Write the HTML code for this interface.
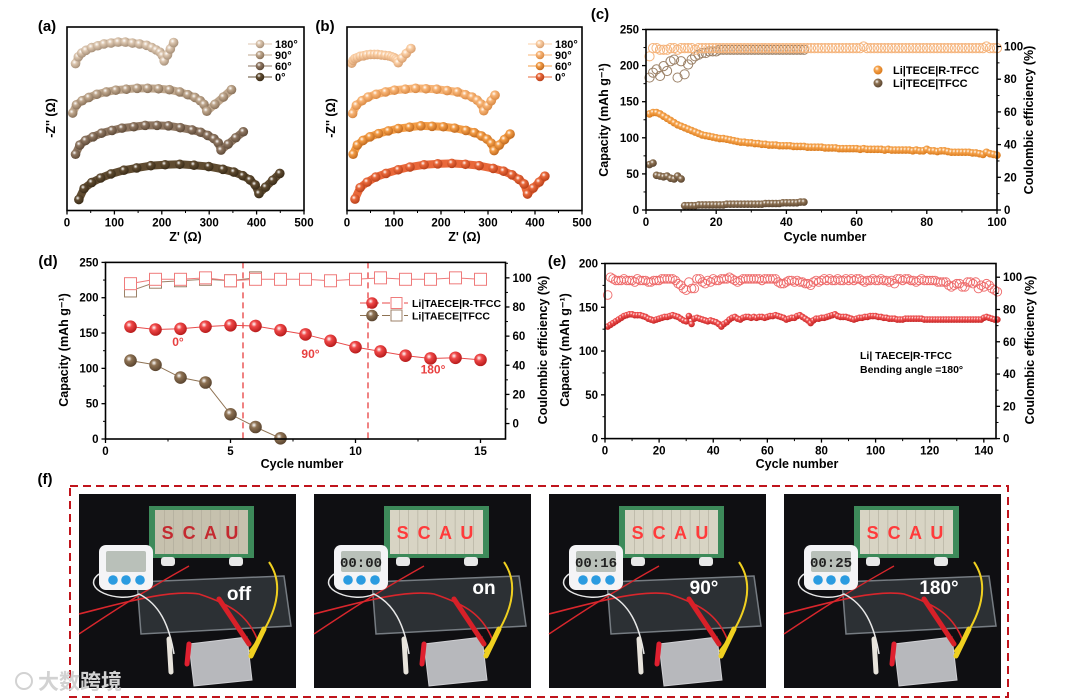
<!DOCTYPE html>
<html><head><meta charset="utf-8">
<style>
html,body{margin:0;padding:0;background:#fff;}
svg{display:block;font-family:"Liberation Sans","Noto Sans CJK SC",sans-serif;}
text{font-weight:bold;}
</style></head>
<body>
<svg id="fig" width="1076" height="699" viewBox="0 0 1076 699">
<defs id="defs"></defs>
</svg>
<script>
// ---------- DATA ----------
// (a) Nyquist, brown series (Z' and -Z'' offset values, ohm)
const a180X=[18,24,31,40,52,65,78,93,108,123,138,153,168,179,188,196,201,205,212,218,225];
const a180Y=[321,336,344,350,356,360,364,366,368,368,366,364,361,356,351,346,339,327,340,353,367];
const a90X=[12,20,32,46,63,83,103,125,148,170,193,216,238,255,270,281,289,295,312,330,347];
const a90Y=[213,231,240,247,254,259,263,265,267,267,266,264,259,253,247,240,232,217,232,248,264];
const a60X=[18,27,39,55,73,95,116,141,165,190,214,239,264,282,297,310,319,325,340,356,372];
const a60Y=[123,143,153,161,169,175,180,183,186,186,185,181,176,171,164,157,148,132,145,159,172];
const a0X=[25,36,52,71,93,120,147,177,207,238,268,299,329,352,371,386,397,405,419,434,449];
const a0Y=[24,48,61,71,80,88,93,98,100,101,99,96,90,84,76,67,56,37,51,66,81];
// (b) Nyquist, orange series
const b180X=[10,13,17,22,28,35,42,50,58,65,73,81,89,95,100,104,107,109,117,126,136];
const b180Y=[322,328,332,334,337,338,340,341,341,341,340,339,338,336,334,331,328,323,333,343,354];
const b90X=[12,20,32,45,62,82,101,124,146,168,191,213,235,252,266,277,285,291,299,307,315];
const b90Y=[212,230,240,248,254,259,263,265,267,266,265,262,259,253,248,241,233,218,229,240,252];
const b60X=[13,22,34,49,67,88,109,133,157,181,205,229,253,271,286,298,307,313,324,335,347];
const b60Y=[123,143,153,161,168,174,179,182,185,184,183,180,175,170,163,156,147,131,143,155,167];
const b0X=[17,28,43,61,83,109,134,164,193,223,252,281,311,333,351,366,377,384,396,409,421];
const b0Y=[25,50,62,73,81,89,95,100,102,103,101,98,92,86,78,68,58,36,49,62,75];
const nyqLabels=["180°","90°","60°","0°"];
const nyqTicks=[0,100,200,300,400,500];
// (c) cycling
const cOrangeCap=[133,135,135,133,130,127,124,121,118,116,114,112,110,108,106,104,103,102,101,100,
99,99,98,97,96,95,94,94,93,93,92,92,91,91,90,90,90,89,89,89,89,88,88,88,88,87,87,87,87,87,
86,86,86,86,85,85,85,85,85,85,84,85,84,84,84,84,84,83,84,83,83,83,83,83,83,82,83,82,82,84,
82,82,81,82,82,81,80,80,80,80,80,80,79,79,78,77,80,78,77,76];
const cOrangeCE=[94,99,99,98,98,98,99,99,98,99,99,99,99,98,99,99,99,99,99,99,
99,99,99,99,99,99,99,99,99,99,99,99,99,99,99,99,99,99,99,99,99,99,99,99,99,99,99,99,99,99,
99,99,99,99,99,99,99,99,99,99,99,100,99,99,99,99,99,99,99,99,99,99,99,99,99,99,99,99,99,99,
99,99,99,99,99,99,99,99,99,99,99,99,99,99,99,99,100,99,99,99];
const cBrownCap=[63,65,48,47,46,47,44,43,47,43,6,6,6,6,7,7,7,7,7,7,7,7,8,8,8,8,8,8,8,8,8,8,8,9,9,9,9,9,10,10,10,10,10,11,11];
const cBrownCE=[81,84,86,82,88,85,91,92,81,91,83,89,92,94,95,96,96,97,97,97,98,98,98,98,98,98,98,98,98,98,98,98,98,98,98,98,98,98,98,98,98,98,98,98,98];
const cXTicks=[0,20,40,60,80,100];
const cYTicks=[0,50,100,150,200,250];
const cY2Ticks=[0,20,40,60,80,100];
// (d) bending test
const dCycles=[1,2,3,4,5,6,7,8,9,10,11,12,13,14,15];
const dRedCap=[159,155,156,159,161,160,154,148,139,130,124,118,114,115,112];
const dRedCE=[96,99,99,100,98,99,99,99,98,99,100,99,99,100,99];
const dBrownCycles=[1,2,3,4,5,6,7];
const dBrownCap=[111,105,87,80,35,17,1];
const dBrownCE=[91,97,98,99,98,100];
const dXTicks=[0,5,10,15];
const dYTicks=[0,50,100,150,200,250];
const dY2Ticks=[0,20,40,60,80,100];
const dDividers=[5.5,10.5];
const dAngleLabels=["0°","90°","180°"];
const dAngleX=[2.9,8.2,13.1];
const dAngleCap=[132,115,93];
// (e) long cycling at 180°
const eCap=[128,130,132,134,136,138,140,141,142,142,141,141,141,140,139,137,136,135,136,137,
138,139,139,140,141,140,139,137,135,134,140,131,137,138,137,136,135,134,135,134,
133,131,128,131,133,136,138,139,137,136,138,139,139,138,139,138,139,139,138,139,
140,140,141,140,139,138,136,137,138,138,140,141,139,137,135,132,135,137,137,138,
138,139,140,141,142,140,139,139,139,138,137,136,137,138,138,139,139,140,140,140,
139,139,138,138,137,137,137,136,136,136,137,137,137,137,137,137,137,136,136,136,
136,136,136,136,136,136,136,136,136,136,136,136,136,136,136,136,136,136,136,138,
139,138,137,136,136];
const eCE=[89,100,99,98,98,98,99,98,98,98,97,99,98,98,98,97,97,98,98,98,
99,99,99,99,99,98,96,95,93,92,97,93,93,99,99,97,96,98,97,99,
98,98,99,99,99,100,99,98,97,98,99,99,99,99,99,99,99,98,99,99,
99,99,99,97,96,96,97,98,98,97,98,97,97,96,96,95,97,98,97,98,
99,98,99,98,98,99,98,98,99,98,99,98,99,99,98,97,98,98,99,98,
98,99,98,98,97,98,96,99,99,98,99,99,98,98,97,98,99,98,98,98,
98,98,97,97,97,97,95,94,95,96,96,94,94,97,97,96,97,93,95,94,
96,95,93,92,91];
const eXTicks=[0,20,40,60,80,100,120,140];
const eYTicks=[0,50,100,150,200];
const eY2Ticks=[0,20,40,60,80,100];
// (f) photos
const photoLabels=["off","on","90°","180°"];
const photoTimers=["","00:00","00:16","00:25"];

// ---------- HELPERS ----------
const NS='http://www.w3.org/2000/svg';
const svg=document.getElementById('fig');
const defs=document.getElementById('defs');
function mk(tag,attrs,parent){const e=document.createElementNS(NS,tag);for(const k in attrs)e.setAttribute(k,attrs[k]);(parent||svg).appendChild(e);return e;}
function txt(s,x,y,attrs,parent){const e=mk('text',Object.assign({x:x,y:y},attrs||{}),parent);e.textContent=s;return e;}
function sx(p,v){return p.x0+(v-p.xmin)/(p.xmax-p.xmin)*(p.x1-p.x0);}
function sy(p,v){return p.y1-(v-p.ymin)/(p.ymax-p.ymin)*(p.y1-p.y0);}
function sy2(p,v){return p.y1-(v-p.y2min)/(p.y2max-p.y2min)*(p.y1-p.y0);}
let gid=0;
function grad(color,dark){const id='g'+(gid++);const g=mk('radialGradient',{id:id,cx:'38%',cy:'35%',r:'65%'},defs);
 mk('stop',{offset:'0',"stop-color":'#ffffff'},g);mk('stop',{offset:'0.35',"stop-color":color},g);mk('stop',{offset:'1',"stop-color":dark},g);return 'url(#'+id+')';}

const A={x0:67,x1:304,y0:27,y1:210.5,xmin:0,xmax:500,ymin:0,ymax:401};
const B={x0:347,x1:582,y0:27,y1:210.5,xmin:0,xmax:500,ymin:0,ymax:401};
const C={x0:646,x1:997,y0:29.5,y1:210,xmin:0,xmax:100,ymin:0,ymax:250,y2min:0,y2max:110.4};
const D={x0:105.5,x1:505.5,y0:262.4,y1:439,xmin:0,xmax:16,ymin:0,ymax:250,y2min:-10.6,y2max:110.6};
const E={x0:605,x1:996,y0:263.5,y1:438.6,xmin:0,xmax:144.5,ymin:0,ymax:200,y2min:0,y2max:108.5};

function frame(p,g){const r=mk('rect',{x:p.x0,y:p.y0,width:p.x1-p.x0,height:p.y1-p.y0,fill:'none',stroke:'#000','stroke-width':1.6},g);
 
 }
function xAxis(p,g,ticks,minorStep){
 for(let i=0;i<ticks.length;i++){const x=sx(p,ticks[i]);
  const t=mk('line',{x1:x,x2:x,y1:p.y1,y2:p.y1+4,stroke:'#000','stroke-width':1.3},g);
  
  
  const l=txt(String(ticks[i]),x,p.y1+16,{'font-size':11.5,'text-anchor':'middle'},g);
  
  
  if(minorStep&&i<ticks.length-1){const m=sx(p,ticks[i]+minorStep);
   const mt=mk('line',{x1:m,x2:m,y1:p.y1,y2:p.y1+2.5,stroke:'#000','stroke-width':1},g);
   
   }
 }}
function yAxis(p,g,ticks,right,minorStep){
 const f=right?sy2:sy;const x=right?p.x1:p.x0;const d=right?1:-1;
 for(let i=0;i<ticks.length;i++){const y=f(p,ticks[i]);
  const t=mk('line',{x1:x,x2:x+4*d,y1:y,y2:y,stroke:'#000','stroke-width':1.3},g);
  
  
  const l=txt(String(ticks[i]),x+7*d,y+4,{'font-size':11.5,'text-anchor':right?'start':'end'},g);
  
  
  if(minorStep){const m=f(p,ticks[i]+minorStep);
   if(m>p.y0){const mt=mk('line',{x1:x,x2:x+2.5*d,y1:m,y2:m,stroke:'#000','stroke-width':1},g);
   
   }}
 }}
function vtitle(s,x,y,g,name){const t=txt(s,x,y,{'font-size':12.5,'text-anchor':'middle',transform:'rotate(-90 '+x+' '+y+')'},g);
 
 return t;}
function htitle(s,x,y,g,name){const t=txt(s,x,y,{'font-size':12.5,'text-anchor':'middle'},g);
 
 return t;}
function panelLabel(s,x,y){const t=txt(s,x,y,{'font-size':15,'text-anchor':'middle'});
 
 }

// ---------- NYQUIST PANELS (a),(b) ----------
function nyquist(p,name,xs,ys,colors,darks,legX){
 const g=mk('g',{});
 
 
 for(let s=0;s<xs.length;s++){
  const fill=grad(colors[s],darks[s]);
  let pts=xs[s].map((v,i)=>sx(p,v)+','+sy(p,ys[s][i])).join(' ');
  const pl=mk('polyline',{points:pts,fill:'none',stroke:colors[s],'stroke-width':8,'stroke-linejoin':'round','stroke-linecap':'round'},g);
  
  
  for(let i=0;i<xs[s].length;i++){
   const c=mk('circle',{cx:sx(p,xs[s][i]),cy:sy(p,ys[s][i]),r:4.8,fill:fill},g);
   
   
  }
  const ly=44+s*11;
  const ll=mk('line',{x1:legX-12,x2:legX+12,y1:ly,y2:ly,stroke:colors[s],'stroke-width':1},g);
  
  
  const lc=mk('circle',{cx:legX,cy:ly,r:4.3,fill:fill},g);
  
  
  const lt=txt(nyqLabels[s],legX+15,ly+4,{'font-size':11},g);
  
  
 }
 frame(p,g);xAxis(p,g,nyqTicks,50);
 htitle("Z' (Ω)",(p.x0+p.x1)/2,241,g,'x-axis-title');
 vtitle("-Z'' (Ω)",p.x0-12,118,g,'y-axis-title');
}
nyquist(A,'panel-a',[a180X,a90X,a60X,a0X],[a180Y,a90Y,a60Y,a0Y],['#dcc6af','#bfa78d','#8e7661','#5f4b30'],['#a8917a','#8a725a','#5e4a38','#3a2c18'],260);
nyquist(B,'panel-b',[b180X,b90X,b60X,b0X],[b180Y,b90Y,b60Y,b0Y],['#fbcfa5','#f8b475','#f39c45','#e9683a'],['#d9a070','#d98a45','#c06a20','#b8401a'],540);
panelLabel('(a)',47,31);panelLabel('(b)',325,31);

// ---------- PANEL (c) ----------
(function(){
 const p=C;const g=mk('g',{});
 
 
 const oF=grad('#f6a34c','#d97a1c'), bF=grad('#8e7253','#5a4530');
 for(let i=0;i<cBrownCE.length;i++){const c=mk('circle',{cx:sx(p,i+1),cy:sy2(p,cBrownCE[i]),r:4.6,fill:'none',stroke:'#9c8268','stroke-width':1},g);
  
  }
 for(let i=0;i<cOrangeCE.length;i++){const c=mk('circle',{cx:sx(p,i+1),cy:sy2(p,cOrangeCE[i]),r:4.6,fill:'none',stroke:'#f5b47c','stroke-width':1},g);
  
  }
 for(let i=0;i<cOrangeCap.length;i++){const c=mk('circle',{cx:sx(p,i+1),cy:sy(p,cOrangeCap[i]),r:3.8,fill:oF},g);
  
  }
 for(let i=0;i<cBrownCap.length;i++){const c=mk('circle',{cx:sx(p,i+1),cy:sy(p,cBrownCap[i]),r:3.8,fill:bF},g);
  
  }
 frame(p,g);xAxis(p,g,cXTicks,10);yAxis(p,g,cYTicks,false,25);yAxis(p,g,cY2Ticks,true,10);
 htitle('Cycle number',825,241,g,'x-axis-title');
 vtitle('Capacity (mAh g⁻¹)',608,120,g,'y-axis-title');
 vtitle('Coulombic efficiency (%)',1033,120,g,'y2-axis-title');
 const l1=mk('circle',{cx:878,cy:70,r:4.5,fill:oF},g);
 
 
 const t1=txt('Li|TECE|R-TFCC',893,74,{'font-size':11},g);
 
 
 const l2=mk('circle',{cx:878,cy:83,r:4.5,fill:bF},g);
 
 
 const t2=txt('Li|TECE|TFCC',893,87,{'font-size':11},g);
 
 
})();
panelLabel('(c)',600,19);

// ---------- PANEL (d) ----------
(function(){
 const p=D;const g=mk('g',{});
 
 
 const rF=grad('#f04848','#b81c1c'), bF=grad('#8e7253','#5a4530');
 for(let i=0;i<dDividers.length;i++){const x=sx(p,dDividers[i]);
  const l=mk('line',{x1:x,x2:x,y1:p.y0,y2:p.y1,stroke:'#e84040','stroke-width':1.3,'stroke-dasharray':'6,4'},g);
  
  }
 function series(xs,ys,f,color,kind,name){
  const pl=mk('polyline',{points:xs.slice(0,ys.length).map((v,i)=>sx(p,v)+','+f(p,ys[i])).join(' '),fill:'none',stroke:color,'stroke-width':1},g);
  
  
  for(let i=0;i<ys.length;i++){let m;
   if(kind==='sq'){m=mk('rect',{x:sx(p,xs[i])-6,y:f(p,ys[i])-6,width:12,height:12,fill:'#fff',stroke:color,'stroke-width':1},g);}
   else{m=mk('circle',{cx:sx(p,xs[i]),cy:f(p,ys[i]),r:6.3,fill:kind},g);}
   
   }
 }
 series(dBrownCycles,dBrownCE,sy2,'#9c8268','sq','tfcc-ce');
 series(dCycles,dRedCE,sy2,'#ef7b7b','sq','rtfcc-ce');
 series(dCycles,dRedCap,sy,'#e84a4a',rF,'rtfcc-capacity');
 series(dBrownCycles,dBrownCap,sy,'#8e7253',bF,'tfcc-capacity');
 for(let i=0;i<dAngleLabels.length;i++){const t=txt(dAngleLabels[i],sx(p,dAngleX[i]),sy(p,dAngleCap[i]),{'font-size':12,fill:'#e84040','font-weight':'normal','text-anchor':'middle'},g);
  
  }
 frame(p,g);xAxis(p,g,dXTicks,2.5);yAxis(p,g,dYTicks,false,25);yAxis(p,g,dY2Ticks,true,10);
 htitle('Cycle number',302,468,g,'x-axis-title');
 vtitle('Capacity (mAh g⁻¹)',68,350,g,'y-axis-title');
 vtitle('Coulombic efficiency (%)',547,350,g,'y2-axis-title');
 const names=['Li|TAECE|R-TFCC','Li|TAECE|TFCC'];const cols=['#e84a4a','#8e7253'];const fills=[rF,bF];const sq=['#ef7b7b','#9c8268'];
 for(let i=0;i<2;i++){const y=303+i*12.5;
  const ln=mk('line',{x1:360,x2:408,y1:y,y2:y,stroke:cols[i],'stroke-width':1,'stroke-dasharray':'8,3'},g);
  
  
  const c=mk('circle',{cx:372,cy:y,r:5.8,fill:fills[i]},g);
  
  
  const r=mk('rect',{x:391,y:y-5.5,width:11,height:11,fill:'#fff',stroke:sq[i]},g);
  
  
  const t=txt(names[i],412,y+4,{'font-size':10.5},g);
  
  }
})();
panelLabel('(d)',48,266);

// ---------- PANEL (e) ----------
(function(){
 const p=E;const g=mk('g',{});
 
 
 const rF=grad('#f05050','#c42424');
 for(let i=0;i<eCE.length;i++){const c=mk('circle',{cx:sx(p,i+1),cy:sy2(p,eCE[i]),r:4.3,fill:'none',stroke:'#ee6a6a','stroke-width':0.9},g);
  
  }
 for(let i=0;i<eCap.length;i++){const c=mk('circle',{cx:sx(p,i+1),cy:sy(p,eCap[i]),r:3.3,fill:rF},g);
  
  }
 frame(p,g);xAxis(p,g,eXTicks,10);yAxis(p,g,eYTicks,false,25);yAxis(p,g,eY2Ticks,true,10);
 htitle('Cycle number',797,468,g,'x-axis-title');
 vtitle('Capacity (mAh g⁻¹)',569,350,g,'y-axis-title');
 vtitle('Coulombic efficiency (%)',1034,350,g,'y2-axis-title');
 const t1=txt('Li| TAECE|R-TFCC',860,359,{'font-size':10.5},g);
 
 
 const t2=txt('Bending angle =180°',860,373,{'font-size':10.5},g);
 
 
})();
panelLabel('(e)',557,266);

// ---------- PANEL (f) ----------
panelLabel('(f)',45,484);
(function(){
 const box=mk('rect',{x:70,y:486,width:938,height:211,fill:'none',stroke:'#c0141c','stroke-width':2,'stroke-dasharray':'8,5'});
 
 
 for(let k=0;k<photoLabels.length;k++){
  const ox=79+k*235, oy=494, lit=k>0;
  const g=mk('g',{transform:'translate('+ox+','+oy+')'});
  
  
  const bg=mk('rect',{x:0,y:0,width:217,height:194,fill:'#0f0f12'},g);
  
  
  const slab=mk('polygon',{points:'58,88 205,82 212,132 62,140',fill:'#2c3034',stroke:'#767c82','stroke-width':1.5},g);
  
  
  const board=mk('rect',{x:70,y:12,width:105,height:52,fill:'#3d8a5a'},g);
  
  
  const panel=mk('rect',{x:76,y:16,width:93,height:44,fill:lit?'#d8d4c4':'#c6c1ae'},g);
  
  
  for(let j=1;j<10;j++){const gl=mk('line',{x1:76+j*9.3,x2:76+j*9.3,y1:16,y2:60,stroke:'#a9a494','stroke-width':0.5},g);
   
   }
  const sc=txt('S C A U',122,45,{'font-size':18,'text-anchor':'middle',fill:lit?'#ff3b3b':'#c42a30','letter-spacing':'2'},g);
  
  
  for(const fx of [82,150]){const ft=mk('rect',{x:fx,y:63,width:14,height:9,rx:3,fill:'#e8e8e8'},g);
   
   }
  const w1=mk('path',{d:'M0,120 C40,110 90,95 120,100 C150,110 170,120 180,150',fill:'none',stroke:'#d8262c','stroke-width':1.6},g);
  
  
  const w2=mk('path',{d:'M0,140 C30,120 60,100 110,72',fill:'none',stroke:'#d8262c','stroke-width':1.4},g);
  
  
  const w3=mk('path',{d:'M190,68 C205,90 200,120 170,158',fill:'none',stroke:'#f0d020','stroke-width':2},g);
  
  
  const w4=mk('path',{d:'M20,80 C0,95 40,110 60,100 C80,110 90,130 95,160',fill:'none',stroke:'#e8e8e8','stroke-width':1.5},g);
  
  
  const timer=mk('rect',{x:20,y:51,width:54,height:45,rx:7,fill:'#f4f4f6'},g);
  
  
  const scr=mk('rect',{x:27,y:57,width:40,height:21,rx:2,fill:'#b9c0b9'},g);
  
  
  const tt=txt(photoTimers[k],47,73,{'font-size':14,'text-anchor':'middle',fill:'#222','font-family':'Liberation Mono, monospace','font-weight':'normal'},g);
  
  
  for(const bx of [34,47,61]){const bt=mk('circle',{cx:bx,cy:86,r:4.8,fill:'#2a9be0'},g);
   
   }
  const pouch=mk('polygon',{points:'110,150 168,143 173,186 115,192',fill:'#b7b8bc',stroke:'#d0d0d4','stroke-width':1},g);
  
  
  const clip1=mk('path',{d:'M140,105 L170,150',stroke:'#d82028','stroke-width':5,'stroke-linecap':'round'},g);
  
  
  const clip2=mk('path',{d:'M110,150 L108,170',stroke:'#e02030','stroke-width':5,'stroke-linecap':'round'},g);
  
  
  const clip3=mk('path',{d:'M90,145 L92,178',stroke:'#e8e4dc','stroke-width':5,'stroke-linecap':'round'},g);
  
  
  const clip4=mk('path',{d:'M185,135 L172,162',stroke:'#f0d020','stroke-width':5,'stroke-linecap':'round'},g);
  
  
  const lb=txt(photoLabels[k],k<2?(k===0?160:170):155,k===0?106:100,{'font-size':19,'text-anchor':'middle',fill:'#fff'},g);
  
  
 }
 const wm=txt('大数跨境',38,689,{'font-size':21,fill:'#d2d2d2','font-weight':'normal'});
 
 
 const wc=mk('circle',{cx:24,cy:681,r:8,fill:'none',stroke:'#d2d2d2','stroke-width':2});
 
 
})();
</script>
</body></html>
